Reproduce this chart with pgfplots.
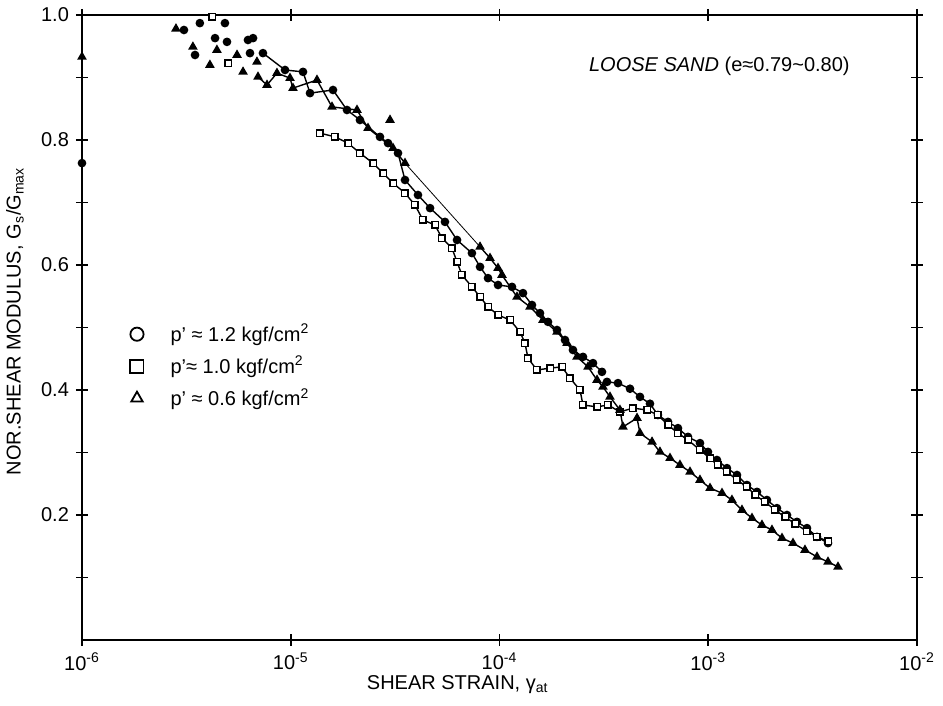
\documentclass[border=0pt]{standalone}
\usepackage{pgfplots}
\pgfplotsset{compat=1.18}
\usepackage{fontspec}
\setmainfont{Liberation Sans}

\pgfplotsset{
  scircle/.style={black, line width=0.7pt, mark=*, mark size=1.8pt, mark options={solid, fill=black}},
  ssquare/.style={black, line width=0.7pt, mark=square*, mark size=1.6pt, mark options={solid, fill=white}},
  stri/.style={black, line width=0.7pt, mark=triangle*, mark size=2.1pt, mark options={solid, fill=black}},
}

\begin{document}
\fontsize{10}{12}\selectfont
\begin{tikzpicture}
\begin{axis}[
  scale only axis, width=417.5pt, height=312.5pt,
  xmode=log, xmin=1e-6, xmax=1e-2, ymin=0, ymax=1,
  xtick={1e-6,1e-5,1e-4,1e-3,1e-2},
  xticklabels={10\textsuperscript{-6},10\textsuperscript{-5},10\textsuperscript{-4},10\textsuperscript{-3},10\textsuperscript{-2}},
  xminorticks=false,
  ytick={0.2,0.4,0.6,0.8,1.0},
  yticklabels={0.2,0.4,0.6,0.8,1.0},
  minor ytick={0.1,0.3,0.5,0.7,0.9},
  tick align=center, major tick length=6pt, minor tick length=6pt,
  every tick/.style={black, line width=0.8pt},
  axis line style={line width=1pt},
  tick label style={font=\fontsize{10}{12}\selectfont},
  xlabel={SHEAR STRAIN, γ\textsubscript{at}},
  ylabel={NOR.SHEAR MODULUS, G\textsubscript{s}/G\textsubscript{max}},
  every axis y label/.style={at={(axis description cs:0,0.51)}, xshift=-33.5pt, rotate=90, anchor=center, font=\fontsize{10}{12}\selectfont},
  every axis x label/.style={at={(axis description cs:0.45,0)}, yshift=-22.5pt, anchor=center, font=\fontsize{10}{12}\selectfont},
  clip=false,
  legend style={at={(axis description cs:0.0575,0.438)}, anchor=west, draw=none, fill=none,
    inner sep=0pt, row sep=4pt, column sep=12.5pt, font=\fontsize{10}{12}\selectfont,
    nodes={inner sep=1pt}},
  legend cell align=left,
  legend image code/.code={\draw[#1, mark size=3.3pt, mark options={solid, fill=white, line width=0.9pt}] plot coordinates {(0pt,0pt)};},
]
\coordinate (ll) at (rel axis cs:0,0);
\coordinate (ur) at (rel axis cs:1,1);

\addlegendimage{scircle}
\addlegendentry{p' ≈ 1.2 kgf/cm\textsuperscript{2}}
\addlegendimage{ssquare}
\addlegendentry{p'≈ 1.0 kgf/cm\textsuperscript{2}}
\addlegendimage{stri}
\addlegendentry{p' ≈ 0.6 kgf/cm\textsuperscript{2}}

% p' = 1.2 (circles)
\addplot[scircle, only marks, forget plot] coordinates {
  (1e-6,0.763) (3.08e-6,0.976) (3.67e-6,0.987) (4.84e-6,0.987) (3.48e-6,0.936)
  (4.34e-6,0.963) (4.95e-6,0.957) (6.24e-6,0.960) (6.60e-6,0.963) (6.38e-6,0.939)
};
\addplot[scircle, forget plot] coordinates {
  (7.36e-6,0.939) (9.39e-6,0.912) (1.145e-5,0.909) (1.237e-5,0.875) (1.594e-5,0.880)
  (1.860e-5,0.848) (2.146e-5,0.832) (2.676e-5,0.805) (2.924e-5,0.795) (3.265e-5,0.779)
  (3.527e-5,0.736) (4.07e-5,0.712) (4.65e-5,0.691) (5.48e-5,0.669) (6.26e-5,0.640)
  (7.38e-5,0.619) (8.07e-5,0.597) (8.81e-5,0.579) (9.84e-5,0.568) (1.148e-4,0.565)
  (1.296e-4,0.555) (1.431e-4,0.536) (1.563e-4,0.523) (1.708e-4,0.509) (1.886e-4,0.496)
  (2.060e-4,0.480) (2.249e-4,0.464) (2.512e-4,0.453) (2.805e-4,0.443) (3.097e-4,0.429)
};
\addplot[scircle, forget plot] coordinates {
  (3.273e-4,0.413) (3.695e-4,0.411) (4.22e-4,0.402) (4.71e-4,0.389) (5.26e-4,0.378)
  (5.74e-4,0.360) (6.42e-4,0.349) (7.16e-4,0.339) (8.00e-4,0.325) (9.13e-4,0.315)
  (9.97e-4,0.301) (1.101e-3,0.288) (1.229e-3,0.275) (1.373e-3,0.264) (1.533e-3,0.248)
  (1.712e-3,0.237) (1.911e-3,0.224) (2.134e-3,0.211) (2.384e-3,0.200) (2.662e-3,0.189)
  (2.972e-3,0.179) (3.319e-3,0.165) (3.748e-3,0.155)
};

% p' = 1.0 (squares)
\addplot[ssquare, only marks, forget plot] coordinates {
  (4.20e-6,0.997) (5.01e-6,0.923)
};
\addplot[ssquare, forget plot] coordinates {
  (1.381e-5,0.811) (1.629e-5,0.805) (1.881e-5,0.795) (2.146e-5,0.779) (2.478e-5,0.763)
  (2.767e-5,0.747) (3.090e-5,0.731) (3.527e-5,0.715) (3.937e-5,0.696) (4.30e-5,0.672)
  (4.91e-5,0.664) (5.30e-5,0.643) (5.92e-5,0.627) (6.26e-5,0.605) (6.61e-5,0.584)
  (7.38e-5,0.565) (8.07e-5,0.549) (8.81e-5,0.533) (9.84e-5,0.520) (1.123e-4,0.512)
  (1.254e-4,0.493) (1.325e-4,0.475) (1.369e-4,0.451) (1.512e-4,0.432) (1.746e-4,0.435)
  (1.993e-4,0.437) (2.176e-4,0.419) (2.430e-4,0.400) (2.512e-4,0.376) (2.932e-4,0.373)
  (3.310e-4,0.376) (3.777e-4,0.365) (4.36e-4,0.371) (5.09e-4,0.368) (5.74e-4,0.360)
  (6.42e-4,0.344) (7.16e-4,0.331) (8.00e-4,0.320) (9.13e-4,0.304) (1.020e-3,0.291)
  (1.113e-3,0.280) (1.229e-3,0.269) (1.373e-3,0.256) (1.533e-3,0.245) (1.675e-3,0.232)
  (1.870e-3,0.221) (2.088e-3,0.208) (2.332e-3,0.197) (2.604e-3,0.186) (2.972e-3,0.174)
  (3.319e-3,0.165) (3.748e-3,0.158)
};

% p' = 0.6 (triangles)
\addplot[stri, only marks, forget plot] coordinates {
  (1e-6,0.933) (2.82e-6,0.978) (3.40e-6,0.949) (4.43e-6,0.944) (4.10e-6,0.920)
  (5.53e-6,0.936) (5.91e-6,0.909) (6.89e-6,0.925) (2.99e-5,0.832)
};
\addplot[stri, forget plot] coordinates {
  (6.97e-6,0.901) (7.70e-6,0.888) (8.59e-6,0.907) (9.92e-6,0.899) (1.025e-5,0.883)
  (1.336e-5,0.896) (1.576e-5,0.853) (2.077e-5,0.848) (2.345e-5,0.819) (3.090e-5,0.787)
  (3.527e-5,0.763)
};
\addplot[black, line width=0.4pt, forget plot] coordinates {
  (3.527e-5,0.763) (8.07e-5,0.629)
};
\addplot[stri, forget plot] coordinates {
  (8.07e-5,0.629) (9.01e-5,0.611) (9.84e-5,0.595) (1.028e-4,0.584) (1.213e-4,0.549)
  (1.400e-4,0.533) (1.616e-4,0.512) (1.886e-4,0.493) (2.106e-4,0.475) (2.351e-4,0.453)
  (2.655e-4,0.437) (2.932e-4,0.416) (3.132e-4,0.405) (3.383e-4,0.389) (3.777e-4,0.368)
  (3.905e-4,0.341) (4.56e-4,0.355) (4.71e-4,0.331) (5.38e-4,0.317) (5.87e-4,0.301)
  (6.56e-4,0.291) (7.32e-4,0.280) (8.18e-4,0.269) (9.13e-4,0.256) (1.020e-3,0.243)
  (1.164e-3,0.235) (1.299e-3,0.224) (1.451e-3,0.208) (1.620e-3,0.195) (1.809e-3,0.184)
  (2.020e-3,0.176) (2.256e-3,0.163) (2.547e-3,0.155) (2.907e-3,0.144) (3.319e-3,0.133)
  (3.748e-3,0.125) (4.184e-3,0.117)
};

\node[anchor=west] at (axis cs:2.485e-4,0.918) {\textit{LOOSE SAND} (e≈0.79\textasciitilde 0.80)};
\end{axis}
\pgfresetboundingbox
\path[use as bounding box] ([shift={(-41pt,-33pt)}]ll) rectangle ([shift={(13pt,7.5pt)}]ur);
\end{tikzpicture}
\end{document}
